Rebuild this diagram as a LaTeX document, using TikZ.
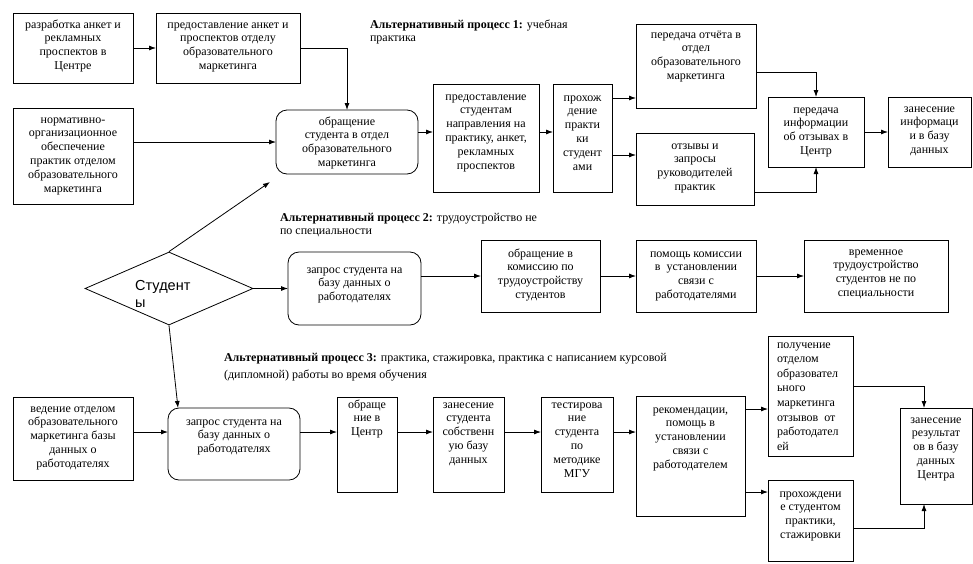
\documentclass[tikz,border=0pt]{standalone}
\usepackage{fontspec}
\setmainfont{Liberation Serif}
\newfontfamily\dsans{Liberation Sans}
\usetikzlibrary{arrows.meta,shapes.geometric}
\tikzset{
  box/.style={draw, line width=0.8pt, inner sep=0pt, outer sep=0pt},
  rbox/.style={box, rounded corners=11pt},
  txt/.style={inner sep=0pt, outer sep=0pt, font=\rmfamily\fontsize{12}{13.8}\selectfont},
  ttl/.style={inner sep=0pt, outer sep=0pt, anchor=base west, font=\rmfamily\fontsize{12}{13.5}\selectfont},
  arr/.style={line width=0.8pt, -{Latex[length=7pt,width=5pt]}},
}
\newcommand\bx[8]{%
  \node[#1, minimum width=#5pt, minimum height=#6pt, anchor=north west] (#2) at (#3,#4) {};
  \node[txt, anchor=base] (#2t) at ([yshift=-#7pt]#2.north) {\parbox[t]{\dimexpr#5pt-4pt\relax}{\centering #8}};
}
\begin{document}
\begin{tikzpicture}[x=1pt,y=-1pt]
\useasboundingbox (0,0) rectangle (973,563);
% row 1
\bx{box}{a1}{13}{13}{120}{70}{15}{разработка анкет и\\рекламных\\проспектов в\\Центре}
\bx{box}{a2}{156}{13}{144}{70}{15}{предоставление анкет и\\проспектов отделу\\образовательного\\маркетинга}
\bx{box}{b1}{13}{108}{120}{96}{15}{нормативно-\\организационное\\обеспечение\\практик отделом\\образовательного\\маркетинга}
\bx{rbox}{r1}{276}{110}{142}{64}{15}{обращение\\студента в отдел\\образовательного\\маркетинга}
\bx{box}{p1}{433}{84}{106}{108}{16}{предоставление\\студентам\\направления на\\практику, анкет,\\рекламных\\проспектов}
\bx{box}{p2}{553}{84}{59}{108}{17}{прохож\\дение\\практи\\ки\\студент\\ами}
\bx{box}{q1}{636}{24}{120}{84}{14}{передача отчёта в\\отдел\\образовательного\\маркетинга}
\bx{box}{q2}{636}{133}{118}{72}{16}{отзывы и\\запросы\\руководителей\\практик}
\bx{box}{q3}{768}{97}{96}{70}{16}{передача\\информации\\об отзывах в\\Центр}
\bx{box}{q4}{888}{97}{83}{70}{15}{занесение\\информаци\\и в базу\\данных}
% row 2
\bx{rbox}{r2}{288}{252}{133}{73}{21}{запрос студента на\\базу данных о\\работодателях}
\bx{box}{s1}{481}{240}{119}{72}{17}{обращение в\\комиссию по\\трудоустройству\\студентов}
\bx{box}{s2}{636}{240}{120}{72}{17}{помощь комиссии\\в\ \ установлении\\связи с\\работодателями}
\bx{box}{s3}{804}{240}{144}{72}{15}{временное\\трудоустройство\\студентов не по\\специальности}
% row 3
\bx{box}{c1}{13}{397}{120}{83}{15}{ведение отделом\\образовательного\\маркетинга базы\\данных о\\работодателях}
\bx{rbox}{r3}{168}{408}{132}{72}{17}{запрос студента на\\базу данных о\\работодателях}
\bx{box}{c2}{337}{397}{60}{95}{11}{обраще\\ние в\\Центр}
\bx{box}{c3}{433}{397}{71}{95}{11}{занесение\\студента\\собственн\\ую базу\\данных}
\bx{box}{c4}{541}{397}{72}{95}{11}{тестирова\\ние\\студента\\по\\методике\\МГУ}
\bx{box}{c5}{636}{396}{109}{120}{17}{рекомендации,\\помощь в\\установлении\\связи с\\работодателем}
\node[box, minimum width=85pt, minimum height=120pt, anchor=north west] (c6) at (768,336) {};
\node[txt, anchor=base west, font=\rmfamily\fontsize{12}{14.6}\selectfont] (c6t) at ([xshift=9pt,yshift=-12pt]c6.north west) {\parbox[t]{80pt}{\raggedright получение\\отделом\\образовател\\ьного\\маркетинга\\отзывов\ \ от\\работодател\\ей}};
\bx{box}{c7}{768}{480}{85}{81}{17}{прохождени\\е студентом\\практики,\\стажировки}
\bx{box}{c8}{900}{408}{72}{96}{15}{занесение\\результат\\ов в базу\\данных\\Центра}
% diamond
\node[draw, diamond, line width=0.8pt, minimum width=168pt, minimum height=73pt, inner sep=0pt] (st) at (169,288.5) {};
\node[inner sep=0pt, anchor=base west, font=\dsans\fontsize{14.5}{17}\selectfont] (stt) at (135,290) {\parbox[t]{80pt}{\raggedright Студент\\ы}};
% titles
\node[ttl] (t1) at (370,28) {\parbox[t]{260pt}{\raggedright\textbf{Альтернативный процесс 1:} учебная\\практика}};
\node[ttl] (t2) at (280,221) {\parbox[t]{360pt}{\raggedright\textbf{Альтернативный процесс 2:} трудоустройство не\\по специальности}};
\node[ttl, font=\rmfamily\fontsize{12}{17}\selectfont] (t3) at (224,361) {\parbox[t]{560pt}{\raggedright\textbf{Альтернативный процесс 3:} практика, стажировка, практика с написанием курсовой\\(дипломной) работы во время обучения}};
% helper coordinates
\coordinate (y72) at (0,72);
\coordinate (y98) at (0,98);
\coordinate (y132) at (0,132);
\coordinate (y155) at (0,155);
\coordinate (y192) at (0,192);
\coordinate (y386) at (0,386);
\coordinate (y409) at (0,409);
\coordinate (y432) at (0,432);
\coordinate (y492) at (0,492);
\coordinate (y528) at (0,528);
\coordinate (x924) at (924,0);
% connectors
\draw[arr] (a1.east) -- (a2.west);
\draw[arr] (a2.east) -| (r1.north);
\draw[arr] (b1.east |- r1.west) -- (r1.west);
\draw[arr] (r1.east |- y132) -- (p1.west |- y132);
\draw[arr] (p1.east |- y132) -- (p2.west |- y132);
\draw[arr] (p2.east |- y98) -- (q1.west |- y98);
\draw[arr] (p2.east |- y155) -- (q2.west |- y155);
\draw[arr] (q1.east |- y72) -| (q3.north);
\draw[arr] (q2.east |- y192) -| (q3.south);
\draw[arr] (q3.east) -- (q4.west);
\draw[arr] (st.north) -- ([xshift=-6pt,yshift=-8pt]r1.south west);
\draw[arr] (st.east) -- (r2.west);
\draw[arr] (st.south) -- ([xshift=10pt]r3.north west);
\draw[arr] (r2.east |- s1.west) -- (s1.west);
\draw[arr] (s1.east) -- (s2.west);
\draw[arr] (s2.east) -- (s3.west);
\draw[arr] (c1.east |- y432) -- (r3.west |- y432);
\draw[arr] (r3.east |- y432) -- (c2.west |- y432);
\draw[arr] (c2.east |- y432) -- (c3.west |- y432);
\draw[arr] (c3.east |- y432) -- (c4.west |- y432);
\draw[arr] (c4.east |- y432) -- (c5.west |- y432);
\draw[arr] (c5.east |- y409) -- (c6.west |- y409);
\draw[arr] (c5.east |- y492) -- (c7.west |- y492);
\draw[arr] (c6.east |- y386) -| (x924 |- c8.north);
\draw[arr] (c7.east |- y528) -| (x924 |- c8.south);
\end{tikzpicture}
\end{document}
